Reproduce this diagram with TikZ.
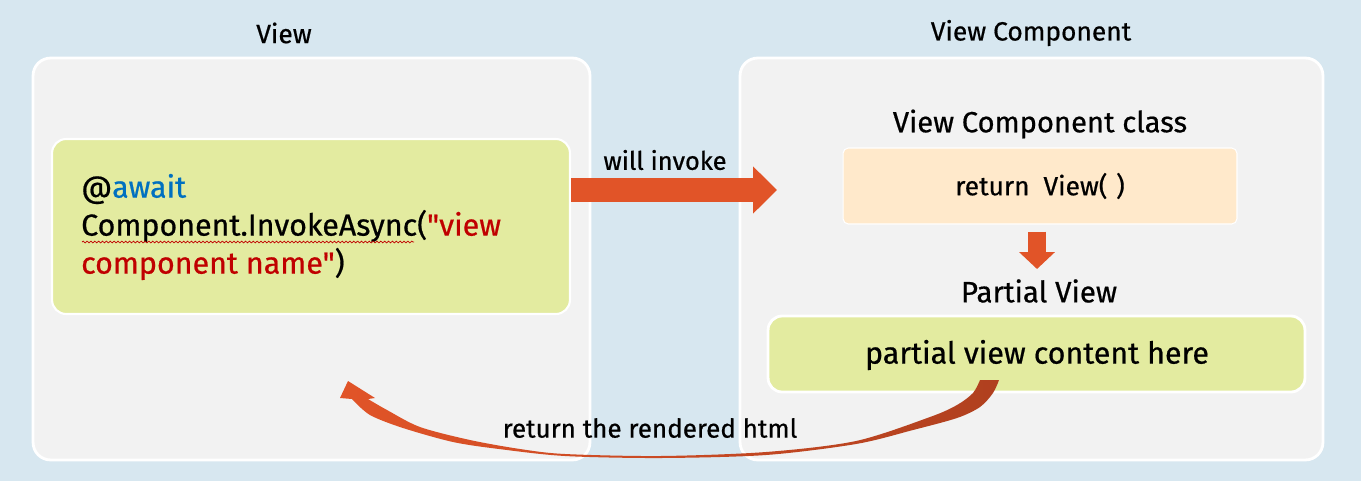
\documentclass[tikz,border=0pt]{standalone}
\usepackage{fontspec}
\setmainfont{Fira Sans}[FakeBold=0.6]
\newfontfamily\codefont{Fira Sans}[FakeBold=0.6]
\usetikzlibrary{arrows.meta, positioning, decorations.pathmorphing}
\definecolor{bgblue}{HTML}{D7E7F0}
\definecolor{panelgray}{HTML}{F2F2F2}
\definecolor{codegreen}{HTML}{E3EBA0}
\definecolor{classorange}{HTML}{FFE9CB}
\definecolor{arroworange}{HTML}{E15428}
\definecolor{arrowbrown}{HTML}{B0401F}
\definecolor{fadepink}{HTML}{F2D6CB}
\definecolor{kwblue}{HTML}{0070C0}
\definecolor{strred}{HTML}{C00000}
\newcommand{\fsz}[1]{\fontsize{#1}{1.25\dimexpr #1\relax}\selectfont}

\begin{document}
\begin{tikzpicture}[x=0.02cm, y=-0.02cm,
    panel/.style={rectangle, rounded corners=10pt, draw=white, line width=1.6pt, fill=panelgray},
    box/.style={rectangle, rounded corners=8pt, draw=white, line width=1.2pt},
    title/.style={font=\fsz{15pt}},
    bigarrow/.style={arroworange, line width=13.6pt, -{Triangle[length=13.6pt, width=26pt]}},
    smallarrow/.style={arroworange, line width=10.2pt, -{Triangle[length=9.6pt, width=19.8pt]}}]
    \fill[bgblue] (0,0) rectangle (1361,481);
    \useasboundingbox (0,0) rectangle (1361,481);
    % the two panels
    \node (view)[panel, minimum width=11.14cm, minimum height=8.04cm] at (311.5,259) {};
    \node (vc)[panel, minimum width=11.66cm, minimum height=8.04cm] at (1031.5,259) {};
    \node (viewlbl)[title] at (284,33) {View};
    \node (vclbl)[title] at (1031,33) {View Component};
    % left side
    \node (code)[box, fill=codegreen, minimum width=10.36cm, minimum height=3.5cm] at (311,226.5) {};
    \node (codetxt)[anchor=west, align=left, font=\codefont\fsz{17.3pt}] at (75,227)
        {@\textcolor{kwblue}{await}\\Component.InvokeAsync(\textcolor{strred}{"view}\\\textcolor{strred}{component name"})};
    \draw[strred, line width=0.4pt, decorate, decoration={snake, amplitude=0.5pt, segment length=2.2pt}] (82,242) -- (414,242);
    % right side
    \node (clslbl)[font=\fsz{16.6pt}] at (1040,124) {View Component class};
    \node (cls)[box, rounded corners=3pt, line width=0.6pt, fill=classorange, minimum width=7.88cm, minimum height=1.52cm] at (1040,186) {};
    \node (ret)[font=\fsz{15pt}] at (1040,186) {return\ \ View(\,\,)};
    \node (pvlbl)[font=\fsz{16.8pt}] at (1039,291) {Partial View};
    \node (pv)[box, fill=codegreen, line width=1.6pt, minimum width=10.74cm, minimum height=1.52cm] at (1036.5,354) {};
    \node (pvtxt)[font=\fsz{17.3pt}] at (1037,355) {partial view content here};
    % arrows
    \coordinate (invtip) at (777,190);
    \coordinate (downtip) at (1037,269);
    \draw[bigarrow] (code.east |- invtip) -- (invtip);
    \node (invlbl)[font=\fsz{14.5pt}] at (665,160) {will invoke};
    \draw[smallarrow, shorten <=4pt] (cls.south -| downtip) -- (downtip);
    % curved return arrow
    \coordinate (rettip) at (348,381);
    \shade[left color=arroworange, middle color=fadepink, right color=arrowbrown]
        (rettip) -- (375,398) -- (368,399)
        -- plot[smooth] coordinates {(368,399) (387,410) (420,427) (470,440) (520,449) (565,454) (660,456) (766,452) (856,441) (930,417) (957,405) (973,393) (980,380)}
        -- (999,380)
        -- plot[smooth] coordinates {(999,380) (993,393) (980,407) (957,418) (913,430) (856,444) (766,455) (660,458) (565,456) (499,449) (453,442) (403,428) (370,415) (352,399)}
        -- (340,398) -- cycle;
    \node (retlbl)[font=\fsz{14.8pt}] at (650,428) {return the rendered html};
\end{tikzpicture}
\end{document}
